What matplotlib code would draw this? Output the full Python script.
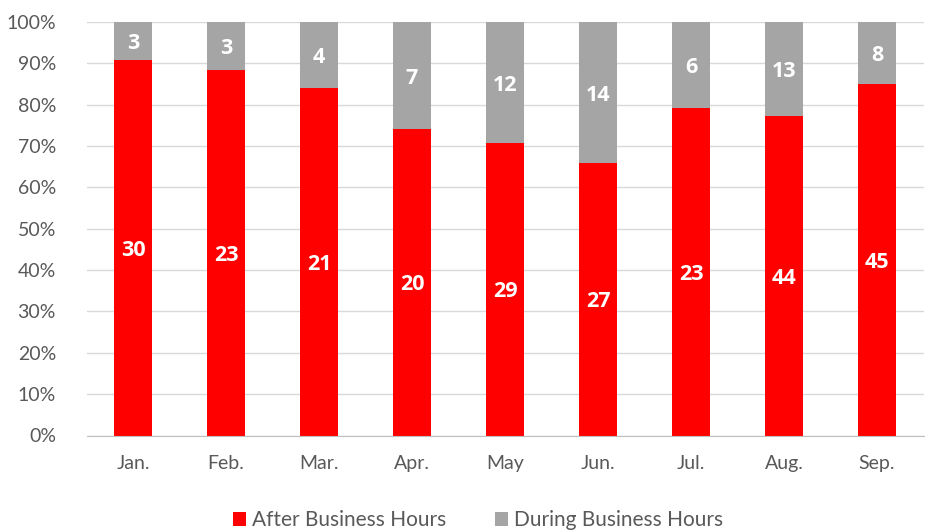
import matplotlib
matplotlib.use("Agg")
import matplotlib.pyplot as plt
import numpy as np

months = ["Jan.", "Feb.", "Mar.", "Apr.", "May", "Jun.", "Jul.", "Aug.", "Sep."]
after_hours = [30, 23, 21, 20, 29, 27, 23, 44, 45]
during_hours = [3, 3, 4, 7, 12, 14, 6, 13, 8]

plt.rcParams['font.family'] = ['Lato', 'DejaVu Sans']

after = np.array(after_hours, dtype=float)
during = np.array(during_hours, dtype=float)
total = after + during
after_pct = after / total * 100
during_pct = during / total * 100

fig = plt.figure(figsize=(9.32, 5.31), dpi=100)
ax = fig.add_axes([86.5/932, 1-435.5/531, (923.5-86.5)/932, (435.5-22)/531])

x = np.arange(len(months))
red = "#FF0000"
grey = "#A5A5A5"
b1 = ax.bar(x, after_pct, width=0.4, color=red, label="After Business Hours", zorder=3)
b2 = ax.bar(x, during_pct, width=0.4, bottom=after_pct, color=grey, label="During Business Hours", zorder=3)

lab_font = dict(color='white', fontsize=15.5, fontweight='bold', family=['Open Sans', 'DejaVu Sans'], zorder=4)
for i in range(len(months)):
    ax.text(x[i], after_pct[i]/2, str(after_hours[i]), ha='center', va='center_baseline', **lab_font)
    ax.text(x[i], after_pct[i] + during_pct[i]/2, str(during_hours[i]), ha='center', va='center_baseline', **lab_font)

ax.set_xlim(-0.5, len(months)-0.5)
ax.set_ylim(0, 100)
ax.set_yticks(np.arange(0, 101, 10))
ax.set_yticklabels([f"{v}%" for v in range(0, 101, 10)])
ax.set_xticks(x)
ax.set_xticklabels(months)
ax.grid(axis='y', color='#D9D9D9', linewidth=1, zorder=0)
for s in ['top', 'right', 'left']:
    ax.spines[s].set_visible(False)
ax.spines['bottom'].set_color('#BFBFBF')
ax.spines['bottom'].set_zorder(3)
ax.tick_params(axis='both', length=0, labelsize=14, colors='#595959')
ax.tick_params(axis='x', pad=14)
ax.tick_params(axis='y', pad=22)

fig.legend(handles=[b1, b2], loc='center', bbox_to_anchor=(0.513, 11/531), ncol=2,
           frameon=False, fontsize=15, labelcolor='#595959',
           handlelength=0.65, handleheight=0.65, handletextpad=0.3, columnspacing=2.3)

fig.savefig("out.png", dpi=100)
